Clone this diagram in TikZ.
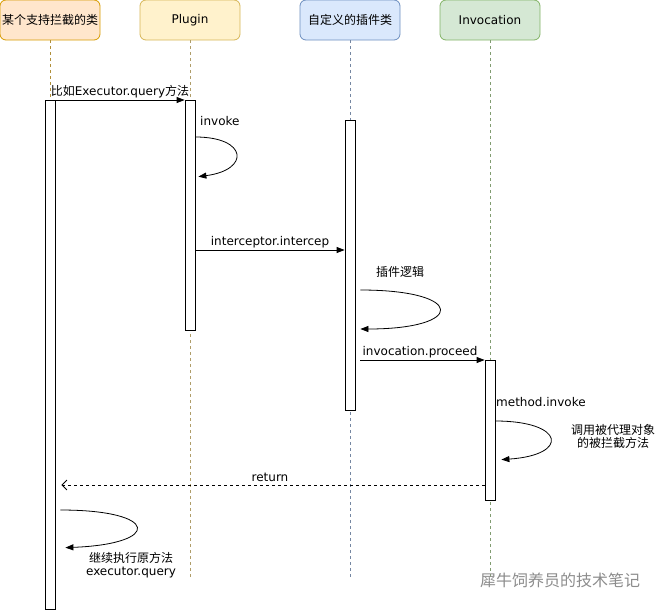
\documentclass[tikz,border=0pt]{standalone}
\usepackage{fontspec}
\setmainfont{DejaVu Sans}
\newfontfamily\cjk{Noto Sans CJK SC}
\usetikzlibrary{arrows.meta}
\definecolor{orangefill}{HTML}{FFE6CC}
\definecolor{orangeline}{HTML}{D79B00}
\definecolor{yellowfill}{HTML}{FFF2CC}
\definecolor{yellowline}{HTML}{D6B656}
\definecolor{bluefill}{HTML}{DAE8FC}
\definecolor{blueline}{HTML}{6C8EBF}
\definecolor{greenfill}{HTML}{D5E8D4}
\definecolor{greenline}{HTML}{82B366}

\begin{document}
\begin{tikzpicture}[x=1pt,y=-1pt,
        font=\fontsize{12}{14}\selectfont,
        participant/.style={rectangle,rounded corners=6pt,minimum width=100pt,minimum height=40pt,inner sep=0pt,line width=0.8pt},
        activation/.style={rectangle,draw,fill=white,minimum width=10pt,inner sep=0pt,anchor=north,line width=0.8pt},
        lifeline/.style={dash pattern=on 3pt off 3pt,line width=0.5pt},
        msg/.style={-{Triangle[length=8pt,width=6pt]},line width=0.8pt},
        ret/.style={-{Straight Barb[length=5pt,width=10pt]},dash pattern=on 3pt off 3pt,line width=0.8pt},
        note/.style={inner sep=1pt,align=center}]

        \useasboundingbox (0,0) rectangle (661,611);

        \node[participant,fill=orangefill,draw=orangeline] (cls) at (50,20) {\cjk 某个支持拦截的类};
        \node[participant,fill=yellowfill,draw=yellowline] (plugin) [right of=cls,node distance=140pt] {Plugin};
        \node[participant,fill=bluefill,draw=blueline] (custom) [right of=plugin,node distance=160pt] {\cjk 自定义的插件类};
        \node[participant,fill=greenfill,draw=greenline] (invocation) [right of=custom,node distance=140pt] {Invocation};

        \foreach \p/\c in {cls/orangeline,plugin/yellowline,custom/blueline,invocation/greenline}
          \draw[lifeline,draw=\c!55!gray] (\p.south) -- (\p.south |- 0,577);

        \node[activation,minimum height=509pt] (a1) at (cls |- 0,100) {};
        \node[activation,minimum height=230pt] (a2) at (plugin |- 0,100) {};
        \node[activation,minimum height=290pt] (a3) at (custom |- 0,120) {};
        \node[activation,minimum height=140pt] (a4) at (invocation |- 0,360) {};

        \path[every node/.style={above,inner sep=2pt}]
          (a1.east |- 0,100) edge[msg] node {{\cjk 比如}Executor.query{\cjk 方法}} (a2.west |- 0,100)
          (a2.east |- 0,250) edge[msg] node {interceptor.intercep} (a3.west |- 0,250)
          (a3.east |- 0,360) edge[msg,shorten <=5pt] node {invocation.proceed} (a4.west |- 0,360)
          (a4.west |- 0,485) edge[ret,shorten >=6pt] node[inner sep=3pt] {return} (a1.east |- 0,485);

        \draw[msg,shorten >=3pt] (a2.east |- 0,137) .. controls (248,137) and (250,170) .. (a2.east |- 0,177);
        \draw[msg,shorten <=5pt,shorten >=5pt] (a3.east |- 0,290) .. controls (466,290) and (466,329) .. (a3.east |- 0,329);
        \draw[msg,shorten >=6pt] (a4.east |- 0,421) .. controls (565,421) and (570,455) .. (a4.east |- 0,460);
        \draw[msg,shorten <=5pt,shorten >=10pt] (a1.east |- 0,510) .. controls (160,510) and (162,544) .. (a1.east |- 0,548);

        \node[note,anchor=west] (invokelbl) at (199,121) {invoke};
        \node[note] (logiclbl) at (400,272) {\cjk 插件逻辑};
        \node[note,anchor=west] (methodlbl) at (495,402) {method.invoke};
        \node[note,font={\fontsize{12}{13}\selectfont\cjk}] (targetlbl) at (613,436) {调用被代理对象\\的被拦截方法};
        \node[note,font={\fontsize{12}{13}\selectfont}] (resumelbl) at (131,565) {{\cjk 继续执行原方法}\\executor.query};
        \node[text=gray!90,font={\fontsize{16}{16}\selectfont\cjk}] (mark) at (560,580) {犀牛饲养员的技术笔记};
    \end{tikzpicture}
\end{document}
